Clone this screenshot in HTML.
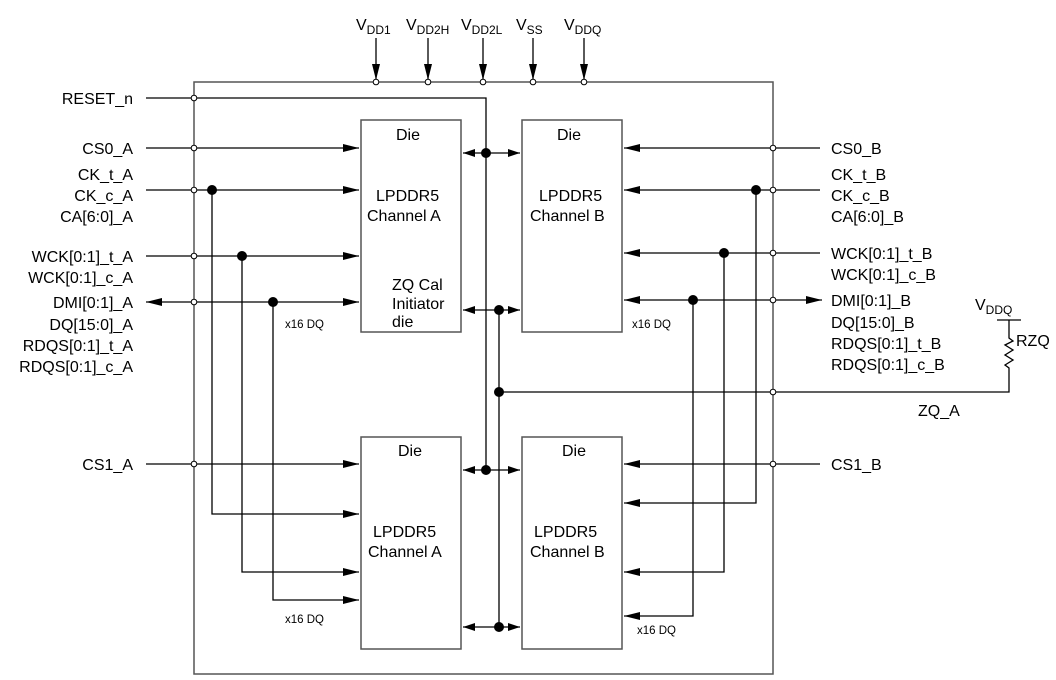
<!DOCTYPE html>
<html><head><meta charset="utf-8"><style>
html,body{margin:0;padding:0;background:#fff;}
svg{display:block;}
text{font-family:"Liberation Sans",sans-serif;fill:#000;}
.l{font-size:16px;}
.s{font-size:11.5px;}
</style></head><body>
<svg width="1056" height="680" viewBox="0 0 1056 680" xmlns="http://www.w3.org/2000/svg">
<defs>
<marker id="as" markerWidth="16" markerHeight="8" refX="16" refY="4" orient="auto-start-reverse" markerUnits="userSpaceOnUse"><path d="M0,0 L16,4 L0,8 Z" fill="#000"/></marker>
<marker id="ab" markerWidth="12" markerHeight="8" refX="12" refY="4" orient="auto-start-reverse" markerUnits="userSpaceOnUse"><path d="M0,0 L12,4 L0,8 Z" fill="#000"/></marker>
</defs>
<g stroke="#555" stroke-width="1.5" fill="none">
<rect x="194" y="82" width="579" height="592"/>
<rect x="361" y="120" width="100" height="212"/>
<rect x="522" y="120" width="100" height="212"/>
<rect x="361" y="437" width="100" height="212"/>
<rect x="522" y="437" width="100" height="212"/>
</g>
<g stroke="#000" stroke-width="1.3" fill="none">
<line x1="376" y1="38" x2="376" y2="80" marker-end="url(#as)"/>
<line x1="428" y1="38" x2="428" y2="80" marker-end="url(#as)"/>
<line x1="483" y1="38" x2="483" y2="80" marker-end="url(#as)"/>
<line x1="533" y1="38" x2="533" y2="80" marker-end="url(#as)"/>
<line x1="584" y1="38" x2="584" y2="80" marker-end="url(#as)"/>
<polyline points="146,98 486,98 486,470"/>
<line x1="499" y1="310" x2="499" y2="627"/>
<line x1="146" y1="148" x2="359" y2="148" marker-end="url(#as)"/>
<line x1="146" y1="190" x2="359" y2="190" marker-end="url(#as)"/>
<line x1="146" y1="256" x2="359" y2="256" marker-end="url(#as)"/>
<line x1="146" y1="302" x2="359" y2="302" marker-start="url(#as)" marker-end="url(#as)"/>
<line x1="146" y1="464" x2="359" y2="464" marker-end="url(#as)"/>
<polyline points="212,190 212,514 359,514" marker-end="url(#as)"/>
<polyline points="242,256 242,572 359,572" marker-end="url(#as)"/>
<polyline points="273,302 273,600 359,600" marker-end="url(#as)"/>
<line x1="820" y1="148" x2="624" y2="148" marker-end="url(#as)"/>
<line x1="820" y1="190" x2="624" y2="190" marker-end="url(#as)"/>
<line x1="820" y1="253" x2="624" y2="253" marker-end="url(#as)"/>
<line x1="822" y1="300" x2="624" y2="300" marker-start="url(#as)" marker-end="url(#as)"/>
<line x1="820" y1="464" x2="624" y2="464" marker-end="url(#as)"/>
<polyline points="756,190 756,503 624,503" marker-end="url(#as)"/>
<polyline points="724,253 724,572 624,572" marker-end="url(#as)"/>
<polyline points="693,300 693,616 624,616" marker-end="url(#as)"/>
<line x1="463" y1="153" x2="520" y2="153" marker-start="url(#ab)" marker-end="url(#ab)"/>
<line x1="463" y1="310" x2="520" y2="310" marker-start="url(#ab)" marker-end="url(#ab)"/>
<line x1="463" y1="470" x2="520" y2="470" marker-start="url(#ab)" marker-end="url(#ab)"/>
<line x1="463" y1="627" x2="520" y2="627" marker-start="url(#ab)" marker-end="url(#ab)"/>
<polyline points="499,392 1009,392 1009,368 1005,365 1013,360 1005,355 1013,350 1005,345 1013,341 1009,338 1009,320"/>
<line x1="997" y1="320" x2="1021" y2="320"/>
</g>
<g fill="#000">
<circle cx="486" cy="153" r="5"/><circle cx="499" cy="310" r="5"/>
<circle cx="486" cy="470" r="5"/><circle cx="499" cy="627" r="5"/>
<circle cx="499" cy="392" r="5"/>
<circle cx="212" cy="190" r="5"/><circle cx="242" cy="256" r="5"/><circle cx="273" cy="302" r="5"/>
<circle cx="756" cy="190" r="5"/><circle cx="724" cy="253" r="5"/><circle cx="693" cy="300" r="5"/>
</g>
<g fill="#fff" stroke="#000" stroke-width="1">
<circle cx="376" cy="82" r="2.8"/><circle cx="428" cy="82" r="2.8"/><circle cx="483" cy="82" r="2.8"/><circle cx="533" cy="82" r="2.8"/><circle cx="584" cy="82" r="2.8"/>
<circle cx="194" cy="98" r="2.8"/><circle cx="194" cy="148" r="2.8"/><circle cx="194" cy="190" r="2.8"/><circle cx="194" cy="256" r="2.8"/><circle cx="194" cy="302" r="2.8"/><circle cx="194" cy="464" r="2.8"/>
<circle cx="773" cy="148" r="2.8"/><circle cx="773" cy="190" r="2.8"/><circle cx="773" cy="253" r="2.8"/><circle cx="773" cy="300" r="2.8"/><circle cx="773" cy="392" r="2.8"/><circle cx="773" cy="464" r="2.8"/>
</g>
<g class="l">
<text x="356" y="30">V<tspan font-size="12" dy="4">DD1</tspan></text>
<text x="406" y="30">V<tspan font-size="12" dy="4">DD2H</tspan></text>
<text x="461" y="30">V<tspan font-size="12" dy="4">DD2L</tspan></text>
<text x="516" y="30">V<tspan font-size="12" dy="4">SS</tspan></text>
<text x="564" y="30">V<tspan font-size="12" dy="4">DDQ</tspan></text>
<text x="975" y="310">V<tspan font-size="12" dy="4">DDQ</tspan></text>
</g>
<g class="l" text-anchor="end">
<text x="133" y="104">RESET_n</text>
<text x="133" y="154">CS0_A</text>
<text x="133" y="180">CK_t_A</text>
<text x="133" y="201">CK_c_A</text>
<text x="133" y="222">CA[6:0]_A</text>
<text x="133" y="262">WCK[0:1]_t_A</text>
<text x="133" y="283">WCK[0:1]_c_A</text>
<text x="133" y="308">DMI[0:1]_A</text>
<text x="133" y="330">DQ[15:0]_A</text>
<text x="133" y="351">RDQS[0:1]_t_A</text>
<text x="133" y="372">RDQS[0:1]_c_A</text>
<text x="133" y="470">CS1_A</text>
</g>
<g class="l">
<text x="831" y="154">CS0_B</text>
<text x="831" y="180">CK_t_B</text>
<text x="831" y="201">CK_c_B</text>
<text x="831" y="222">CA[6:0]_B</text>
<text x="831" y="259">WCK[0:1]_t_B</text>
<text x="831" y="280">WCK[0:1]_c_B</text>
<text x="831" y="306">DMI[0:1]_B</text>
<text x="831" y="328">DQ[15:0]_B</text>
<text x="831" y="349">RDQS[0:1]_t_B</text>
<text x="831" y="370">RDQS[0:1]_c_B</text>
<text x="831" y="470">CS1_B</text>
<text x="918" y="416">ZQ_A</text>
<text x="1016" y="346">RZQ</text>
<text x="396" y="140">Die</text>
<text x="557" y="140">Die</text>
<text x="398" y="456">Die</text>
<text x="562" y="456">Die</text>
<text x="376" y="201">LPDDR5</text>
<text x="367" y="221">Channel A</text>
<text x="539" y="201">LPDDR5</text>
<text x="530" y="221">Channel B</text>
<text x="392" y="290">ZQ Cal</text>
<text x="392" y="309">Initiator</text>
<text x="392" y="327">die</text>
<text x="373" y="537">LPDDR5</text>
<text x="368" y="557">Channel A</text>
<text x="534" y="537">LPDDR5</text>
<text x="530" y="557">Channel B</text>
</g>
<g class="s">
<text x="285" y="328">x16 DQ</text>
<text x="632" y="328">x16 DQ</text>
<text x="285" y="623">x16 DQ</text>
<text x="637" y="634">x16 DQ</text>
</g>
</svg>
</body></html>
